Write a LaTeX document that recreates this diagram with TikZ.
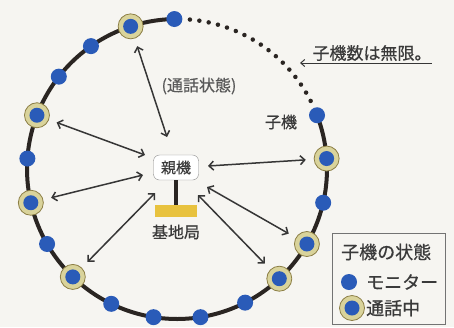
\documentclass[tikz,border=0pt]{standalone}
\usepackage{fontspec}
\newfontfamily\jp[FakeBold=0.6]{Noto Sans CJK JP}
\usetikzlibrary{arrows.meta,calc}
\definecolor{bg}{HTML}{F6F5F1}
\definecolor{ringc}{HTML}{2A2522}
\definecolor{dotblue}{HTML}{2A5BB8}
\definecolor{callring}{HTML}{D9D39B}
\definecolor{calledge}{HTML}{8C7E45}
\definecolor{gold}{HTML}{E8C23E}
\definecolor{arrc}{HTML}{363636}
\definecolor{txt}{HTML}{3A3A3A}
\tikzset{
  monnode/.style={circle, fill=dotblue, minimum size=16pt, inner sep=0pt},
  callnode/.style={circle, fill=callring, draw=calledge, line width=0.8pt,
    minimum size=25pt, inner sep=0pt,
    path picture={\fill[dotblue] (path picture bounding box.center) circle (7.5pt);}},
  ringline/.style={ringc, line width=4pt},
  dotline/.style={ringc, line width=4.5pt, line cap=round, dash pattern=on 0pt off 9.5pt},
  arr/.style={arrc, line width=1.5pt, {Straight Barb[length=4.5pt,width=9pt]}-{Straight Barb[length=4.5pt,width=9pt]}, shorten <=8pt},
  lbl/.style={text=txt, inner sep=0pt},
}
\begin{document}
\begin{tikzpicture}[x=1pt,y=-1pt,font=\jp]
\fill[bg] (0,0) rectangle (454,327);
\useasboundingbox (0,0) rectangle (454,327);
% ring
\draw[ringline] plot[domain=91:381, samples=150] ({177+150*cos(\x)},{169-150*sin(\x)});
\draw[dotline] plot[domain=27:86, samples=60] ({177+150*cos(\x)},{169-150*sin(\x)});
% handsets on the ring
\foreach \a/\t in {91/monnode,108/callnode,125/monnode,142/monnode,159/callnode,176/monnode,
  193/callnode,210/monnode,226/callnode,244/monnode,261/monnode,279/monnode,297/monnode,
  313/callnode,330/callnode,347/monnode,4/callnode,21/monnode}
  \node[\t] (n\a) at ({177+150*cos(\a)},{169-150*sin(\a)}) {};
% base unit
\node[draw=black!45, fill=white, rounded corners=6pt, minimum width=45pt, minimum height=25pt,
  inner sep=0pt, text=txt, font=\jp\fontsize{15}{15}\selectfont] (oya) at (176,167.5) {親機};
\node[fill=gold, minimum width=42pt, minimum height=12pt, inner sep=0pt] (base) at (176,211) {};
\draw[ringc, line width=3.5pt] (oya.south) -- (base.north);
\node[lbl, font=\jp\fontsize{16}{16}\selectfont] (kichi) at (176,232) {基地局};
% arrow end points near the base unit
\coordinate (e1) at (167,137);
\coordinate (e2) at (145,155);
\coordinate (e3) at (208,166);
\coordinate (e4) at (143,175);
\coordinate (e5) at (155,193);
\coordinate (e6) at (207,187);
\coordinate (e7) at (198,195);
\draw[arr] (n108) -- (e1);
\draw[arr] (n159) -- (e2);
\draw[arr] (n4) -- (e3);
\draw[arr] (n193) -- (e4);
\draw[arr] (n226) -- (e5);
\draw[arr] (n330) -- (e6);
\draw[arr] (n313) -- (e7);
% labels
\node[lbl, text=black!65, font=\jp\fontsize{16}{16}\selectfont] (tsuwa) at (199,86) {(通話状態)};
\node[lbl, font=\jp\fontsize{16}{16}\selectfont] (koki) at (281,122) {子機};
\node[lbl, font=\jp\fontsize{17}{17}\selectfont] (mugen) at (372,53) {子機数は無限。};
\coordinate (dp) at (300,63);
\draw[arrc, line width=1pt, -{Straight Barb[length=4pt,width=7pt]}] (dp -| mugen.east) -- (dp);
% legend
\node[draw=black!55, line width=1pt, minimum width=113pt, minimum height=91pt, inner sep=0pt] (leg) at (388.5,278.5) {};
\node[lbl, anchor=west, font=\jp\fontsize{18}{18}\selectfont] (legt) at (341,252) {子機の状態};
\node[monnode] (lm) at (349,282) {};
\node[lbl, anchor=west, font=\jp\fontsize{18}{18}\selectfont] (lmt) at (366,282) {モニター};
\node[callnode] (lc) at (352,308) {};
\node[lbl, anchor=west, font=\jp\fontsize{18}{18}\selectfont] (lct) at (366,308) {通話中};
\end{tikzpicture}
\end{document}
